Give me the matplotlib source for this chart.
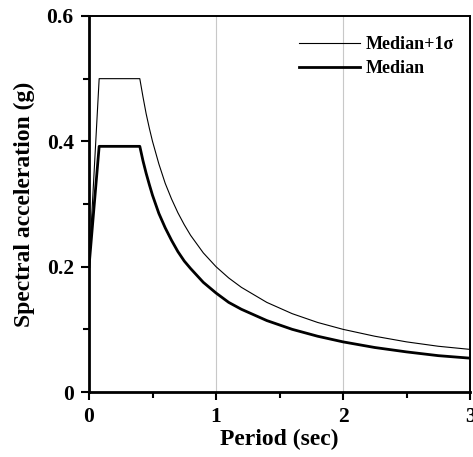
import matplotlib
matplotlib.use("Agg")
import matplotlib.pyplot as plt
from matplotlib.ticker import MultipleLocator

plt.rcParams['font.family'] = ['Liberation Serif', 'DejaVu Serif']
plt.rcParams['font.weight'] = 'bold'

period = [0.0, 0.08, 0.40, 0.425, 0.45, 0.475, 0.50, 0.55, 0.60, 0.65, 0.70, 0.75, 0.80,
          0.90, 1.00, 1.10, 1.20, 1.40, 1.60, 1.80, 2.00, 2.25, 2.50, 2.75, 3.00]
sa_plus1 = [0.200, 0.500, 0.500, 0.471, 0.444, 0.421, 0.400, 0.364, 0.333, 0.308, 0.286,
            0.267, 0.250, 0.222, 0.200, 0.182, 0.167, 0.143, 0.125, 0.111, 0.100, 0.089,
            0.080, 0.073, 0.068]
sa_median = [0.200, 0.392, 0.392, 0.369, 0.349, 0.331, 0.314, 0.285, 0.262, 0.242, 0.224,
             0.209, 0.197, 0.175, 0.158, 0.143, 0.132, 0.114, 0.100, 0.089, 0.080, 0.071,
             0.064, 0.058, 0.054]

fig = plt.figure(figsize=(4.73, 4.57), dpi=100)
ax = fig.add_axes([89/473, 1-392/457, 381/473, 376/457])

ax.plot(period, sa_plus1, color='black', lw=0.8, label='Median+1σ')
ax.plot(period, sa_median, color='black', lw=2.0, label='Median')

ax.set_xlim(0, 3)
ax.set_ylim(0, 0.6)
ax.xaxis.set_minor_locator(MultipleLocator(0.5))
ax.yaxis.set_minor_locator(MultipleLocator(0.1))
ax.set_xticks([0, 1, 2, 3])
ax.set_xticklabels(['0', '1', '2', '3'])
ax.set_yticks([0, 0.2, 0.4, 0.6])
ax.set_yticklabels(['0', '0.2', '0.4', '0.6'])
ax.grid(axis='x', which='major', color='#c8c8c8', lw=0.8)
ax.tick_params(which='major', direction='out', length=6, width=1.5, labelsize=15.5, pad=5)
ax.tick_params(which='minor', direction='out', length=4, width=1.5)
for s in ['left', 'bottom']:
    ax.spines[s].set_linewidth(2.0)
for s in ['top', 'right']:
    ax.spines[s].set_linewidth(1.4)

ax.set_xlabel('Period (sec)', fontsize=17, fontweight='bold', labelpad=1)
ax.set_ylabel('Spectral acceleration (g)', fontsize=17, fontweight='bold', labelpad=8)

ax.legend(loc='upper right', frameon=False, fontsize=13, handlelength=3.4,
          handletextpad=0.3, labelspacing=0.38, bbox_to_anchor=(1.0, 0.99))

fig.savefig('out.png', dpi=100)
